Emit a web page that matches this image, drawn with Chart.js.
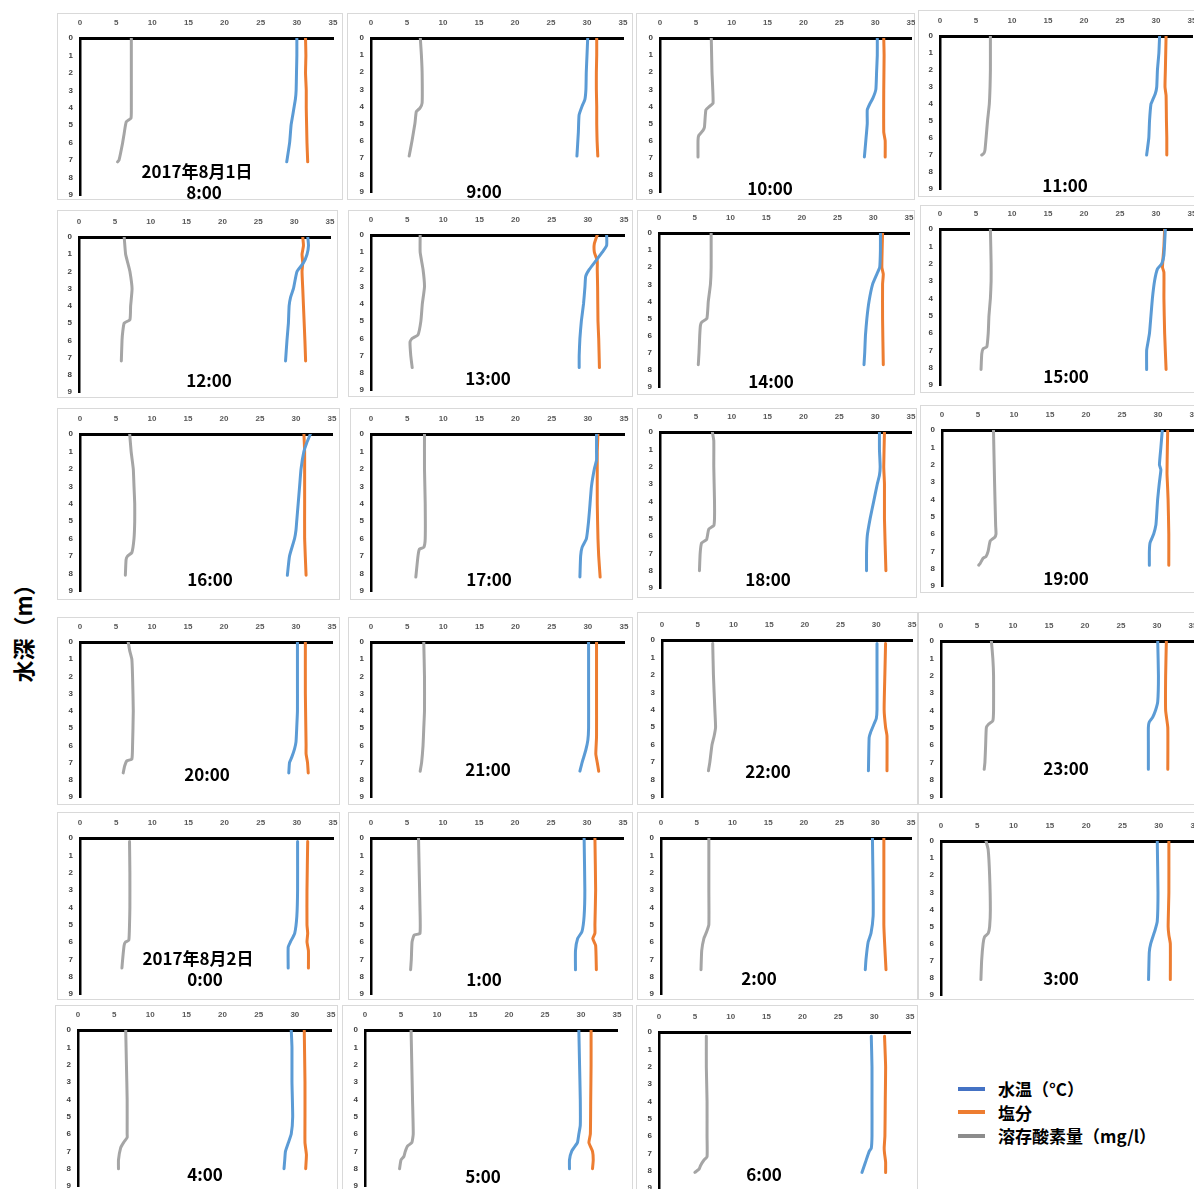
<!DOCTYPE html>
<html>
<head>
<meta charset="utf-8">
<script src="https://cdn.jsdelivr.net/npm/chart.js@4.4.1/dist/chart.umd.min.js"></script>
<style>
    body { margin: 0; width: 1194px; height: 1189px; overflow: hidden; background: #fff; position: relative; font-family: "Noto Sans CJK JP", sans-serif; }
    .frame { position: absolute; border: 1px solid #d9d9d9; box-sizing: border-box; }
    canvas { position: absolute; }
    .time { position: absolute; transform: translate(-50%, -50%); font-weight: bold; font-size: 17px; line-height: 1; white-space: nowrap; color: #000; }
    .ytitle { position: absolute; left: 22px; top: 628px; transform: translate(-50%, -50%) rotate(-90deg); font-weight: bold; font-size: 22px; white-space: nowrap; }
    .legend { position: absolute; left: 958px; top: 1077px; font-weight: bold; font-size: 17px; line-height: 23.5px; }
    .legend div { display: flex; align-items: center; }
    .legend span.mark { display: inline-block; width: 27px; height: 4px; margin-right: 13px; }
</style>
</head>
<body>
<div class="ytitle">水深（m）</div>
<div class="legend">
    <div><span class="mark" style="background:#4472c4"></span>水温（°C）</div>
    <div><span class="mark" style="background:#ed7d31"></span>塩分</div>
    <div><span class="mark" style="background:#8c8c8c"></span>溶存酸素量（mg/l）</div>
</div>
<script>
// --- dados: hora de cada perfil e os perfis [profundidade (m), valor] ---
const times = ['8:00', '9:00', '10:00', '11:00', '12:00', '13:00', '14:00', '15:00',
               '16:00', '17:00', '18:00', '19:00', '20:00', '21:00', '22:00', '23:00',
               '0:00', '1:00', '2:00', '3:00', '4:00', '5:00', '6:00'];
const dateLabels = ['2017年8月1日', '', '', '', '', '', '', '', '', '', '', '', '', '', '', '',
                    '2017年8月2日', '', '', '', '', '', ''];
const valueTicks = [0, 5, 10, 15, 20, 25, 30, 35];
const depthTicks = [0, 1, 2, 3, 4, 5, 6, 7, 8, 9];

// 水温 (°C)
const waterTemp = [
    [[0,30.0],[1,30.0],[2,29.95],[3,29.9],[3.5,29.8],[4,29.6],[4.5,29.4],[5,29.2],[6,29.0],[7.1,28.6]],
    [[0,30.1],[1,30.0],[2,29.9],[3,29.85],[3.6,29.7],[4,29.3],[4.5,28.9],[5.5,28.8],[6.9,28.6]],
    [[0,30.3],[1,30.3],[2,30.2],[3,30.1],[3.5,29.7],[3.9,29.2],[4.2,28.9],[5,28.9],[6,28.7],[6.95,28.5]],
    [[0,30.5],[1,30.4],[2,30.2],[3,30.1],[3.4,29.9],[3.8,29.5],[4,29.3],[5,29.1],[6,29.0],[7,28.7]],
    [[0,31.9],[0.5,32.0],[1,31.8],[1.5,31.3],[2,30.4],[3,29.9],[3.5,29.5],[4,29.3],[5,29.2],[6,29.0],[7.2,28.8]],
    [[0,32.6],[0.6,32.6],[1,32.0],[1.5,31.1],[2,30.2],[2.4,29.7],[3,29.6],[4,29.4],[5,29.1],[6,28.9],[7,28.8],[7.7,28.8]],
    [[0,31.0],[1,31.0],[2,30.9],[2.4,30.5],[3,29.9],[4,29.4],[5,29.1],[6,28.9],[7,28.8],[7.7,28.7]],
    [[0,31.3],[1.5,31.1],[2,30.8],[2.3,30.2],[3,29.8],[4,29.5],[5,29.3],[6,29.1],[6.5,28.9],[7,28.7],[8.1,28.7]],
    [[0,32.0],[0.5,31.5],[1,31.1],[2,30.7],[3,30.5],[4,30.3],[5,30.1],[5.5,30.0],[6,29.8],[7,29.1],[8.1,28.8]],
    [[0,31.2],[1,31.2],[1.5,31.2],[2,30.9],[3,30.5],[4,30.3],[5,30.1],[6,29.8],[6.5,29.2],[7,29.0],[8.2,28.9]],
    [[0,30.6],[1,30.6],[2,30.7],[2.5,30.6],[3,30.3],[4,29.8],[5,29.3],[6,28.9],[7,28.8],[8,28.8]],
    [[0,30.6],[1,30.4],[2,30.2],[2.3,30.4],[3,30.2],[4,29.95],[5,29.8],[5.5,29.7],[6,29.4],[6.5,28.9],[7,28.8],[7.8,28.8]],
    [[0,30.2],[2,30.2],[4,30.2],[5,30.1],[5.8,30.0],[6.2,29.8],[6.7,29.4],[7.0,29.1],[7.6,29.0]],
    [[0,30.1],[3,30.1],[5,30.1],[5.7,30.0],[6.3,29.7],[7,29.2],[7.5,28.9]],
    [[0.2,30.1],[2,30.1],[4,30.1],[4.5,30.0],[4.8,29.7],[5.3,29.2],[5.6,29.0],[7.5,28.9]],
    [[0,30.1],[2,30.2],[3.5,30.1],[4,29.8],[4.4,29.4],[4.7,28.9],[5,28.8],[6,28.8],[7.4,28.8]],
    [[0.2,30.1],[3,30.1],[4.5,30.0],[5.5,29.7],[6,29.1],[6.3,28.8],[7.5,28.8]],
    [[0,29.6],[3,29.7],[4.5,29.6],[5.4,29.3],[5.8,28.7],[6.5,28.4],[7.6,28.4]],
    [[0,29.6],[3,29.7],[4.5,29.7],[5.5,29.4],[6,29.0],[7,28.7],[7.6,28.6]],
    [[0,29.8],[3,29.9],[4.7,29.8],[5.2,29.5],[6,28.9],[6.5,28.7],[8.1,28.6]],
    [[0,29.5],[1,29.6],[3,29.6],[5,29.7],[6,29.5],[6.5,29.1],[7,28.7],[7.5,28.6],[8,28.5]],
    [[0,29.7],[2,29.8],[4,29.9],[5.5,29.9],[6,29.7],[6.5,29.5],[7,28.7],[7.5,28.4],[8,28.4]],
    [[0.25,29.6],[2,29.7],[4,29.7],[6,29.7],[6.7,29.6],[6.9,29.3],[7.5,28.8],[8.1,28.3]]
];

// 塩分
const salinity = [
    [[0,31.2],[1,31.25],[2,31.2],[3,31.3],[4,31.3],[5,31.35],[6,31.4],[7.1,31.5]],
    [[0,31.35],[1,31.35],[2,31.3],[3,31.3],[4,31.35],[5,31.35],[6,31.4],[6.9,31.5]],
    [[0,31.2],[1,31.25],[3,31.2],[5.5,31.2],[6,31.4],[6.95,31.4]],
    [[0,31.4],[2,31.3],[3,31.25],[3.5,31.4],[5,31.45],[6,31.5],[7,31.5]],
    [[0,31.2],[0.5,31.3],[1,31.1],[1.5,31.2],[2,31.1],[3,31.2],[4,31.3],[5,31.4],[6,31.5],[7.2,31.6]],
    [[0,31.3],[0.5,30.9],[1,30.9],[1.5,31.3],[2,31.3],[3,31.35],[5,31.4],[6,31.5],[7.7,31.6]],
    [[0,31.3],[2,31.2],[2.4,31.4],[3,31.3],[5,31.3],[7.7,31.4]],
    [[0,31.2],[1,31.1],[2.2,30.9],[2.5,31.1],[4,31.1],[6,31.2],[8.1,31.4]],
    [[0,31.1],[1,31.2],[2,31.2],[4,31.2],[6,31.2],[8.1,31.4]],
    [[0,31.4],[1,31.3],[2,31.3],[4,31.3],[6,31.4],[7,31.5],[8.2,31.7]],
    [[0,31.3],[2,31.2],[3,31.3],[5,31.3],[8,31.5]],
    [[0,31.35],[1,31.3],[2.5,31.25],[3,31.3],[4,31.4],[6,31.5],[7.8,31.5]],
    [[0,31.3],[3,31.3],[6,31.4],[6.5,31.4],[7,31.6],[7.6,31.7]],
    [[0,31.2],[3,31.2],[5.5,31.2],[6.5,31.1],[7,31.3],[7.5,31.5]],
    [[0.2,31.3],[2,31.2],[4,31.1],[5,31.3],[5.5,31.5],[7.5,31.5]],
    [[0,31.3],[2,31.2],[4,31.2],[5,31.5],[7.4,31.5]],
    [[0.2,31.5],[3,31.4],[5,31.4],[5.5,31.5],[6,31.4],[6.5,31.6],[7.5,31.6]],
    [[0,31.1],[3,31.2],[5,31.1],[5.5,31.1],[5.8,30.8],[6.2,31.2],[7.6,31.3]],
    [[0,31.2],[3,31.2],[5,31.2],[6,31.3],[7.6,31.5]],
    [[0,31.4],[3,31.4],[5,31.3],[5.5,31.4],[6,31.6],[8.1,31.6]],
    [[0,31.3],[3,31.4],[5,31.4],[6.5,31.4],[7.2,31.6],[8,31.5]],
    [[0,31.4],[2,31.4],[4,31.35],[6,31.3],[6.5,31.1],[7,31.6],[7.5,31.7],[8,31.6]],
    [[0.25,31.45],[2,31.6],[4,31.55],[6,31.5],[6.7,31.4],[7,31.45],[7.5,31.6],[8.1,31.6]]
];

// 溶存酸素量 (mg/l)
const oxygen = [
    [[0,7.1],[2,7.1],[4,7.1],[4.6,7.05],[4.8,6.4],[5.5,6.1],[6,5.9],[7,5.4],[7.1,5.2]],
    [[0,6.85],[1,7.0],[2,7.1],[3.8,7.1],[4.1,6.8],[4.3,6.3],[5,6.1],[6,5.7],[6.9,5.3]],
    [[0,7.15],[2,7.25],[3.8,7.4],[4.0,6.9],[4.2,6.4],[5.2,6.2],[5.4,6.0],[5.7,5.4],[6,5.3],[6.95,5.3]],
    [[0,7.0],[2,7.0],[3,6.95],[4,6.85],[5,6.6],[6,6.4],[6.7,6.25],[6.9,6.1],[7.0,5.8]],
    [[0,6.3],[1,6.5],[1.5,6.8],[2,7.1],[3,7.4],[4,7.2],[4.8,7.1],[5,6.3],[5.5,6.1],[6,6.0],[7.2,5.9]],
    [[0,6.8],[1,6.8],[2,7.2],[3,7.4],[4,7.1],[5,6.9],[5.8,6.5],[6,5.7],[6.2,5.4],[7,5.5],[7.7,5.7]],
    [[0,7.3],[2,7.3],[3,7.2],[4,6.9],[5,6.7],[5.2,6.0],[5.4,5.8],[6,5.7],[7,5.6],[7.7,5.5]],
    [[0,7.0],[2,7.1],[3,7.1],[4,7.0],[5,6.8],[6,6.7],[6.8,6.5],[6.9,6.0],[7.2,5.8],[8.1,5.7]],
    [[0,6.9],[1,7.1],[2,7.4],[3,7.5],[4,7.6],[5,7.6],[6,7.5],[6.8,7.2],[7,6.6],[7.2,6.4],[8.1,6.3]],
    [[0,7.4],[2,7.4],[4,7.5],[6,7.5],[6.5,7.3],[6.6,6.7],[7,6.5],[8.2,6.2]],
    [[0,7.3],[0.5,7.5],[2,7.5],[4,7.6],[5,7.6],[5.4,7.5],[5.6,6.8],[6.2,6.5],[6.4,5.8],[7,5.6],[8,5.5]],
    [[0,7.15],[3,7.3],[5.5,7.45],[6,7.5],[6.2,7.3],[6.4,6.7],[7,6.4],[7.3,6.1],[7.4,5.7],[7.7,5.3],[7.8,5.1]],
    [[0,6.7],[0.5,6.9],[1,7.2],[2,7.3],[4,7.4],[6,7.3],[6.8,7.2],[6.9,6.5],[7.2,6.2],[7.6,6.0]],
    [[0,7.3],[2,7.4],[4,7.4],[5,7.3],[6,7.2],[7,7.0],[7.5,6.8]],
    [[0.2,7.1],[2,7.2],[4,7.4],[5,7.5],[5.5,7.3],[6,7.0],[7,6.7],[7.5,6.5]],
    [[0,7.0],[1,7.2],[2,7.3],[4,7.3],[4.6,7.2],[4.8,6.6],[5,6.3],[6,6.2],[7,6.1],[7.4,6.0]],
    [[0.2,6.85],[2,6.9],[4,6.9],[5,6.85],[5.9,6.75],[6.0,6.3],[6.2,6.1],[7,5.9],[7.5,5.8]],
    [[0,6.6],[2,6.7],[4,6.8],[5.5,6.8],[5.6,6.0],[6,5.7],[7,5.6],[7.6,5.5]],
    [[0,6.7],[3,6.7],[5,6.7],[5.4,6.4],[5.8,6.0],[6.5,5.7],[7.6,5.6]],
    [[0,6.2],[0.5,6.5],[2,6.7],[4,6.8],[5,6.7],[5.4,6.5],[5.6,6.0],[6,5.8],[7,5.6],[8.1,5.5]],
    [[0,6.6],[2,6.7],[4,6.8],[6,6.8],[6.2,6.8],[6.5,6.3],[6.8,5.9],[7.5,5.6],[8,5.6]],
    [[0,6.4],[2,6.5],[4,6.6],[6,6.7],[6.5,6.5],[6.7,5.9],[7,5.6],[7.3,5.4],[7.5,5.0],[8,4.8]],
    [[0.25,6.6],[2,6.6],[4,6.7],[6,6.7],[7.2,6.7],[7.4,6.25],[7.7,5.8],[7.9,5.6],[8.1,5.0]]
];

// --- layout de cada painel: moldura, eixo (0 e 35, 0 m e 9 m) e posição do texto ---
// [left, top, right, bottom, x0, x35, y0, y9, textX, textY]
const panelLayout = [
    [57, 13, 343, 200, 80, 333, 38, 195, 204, 191],
    [347, 13, 633, 200, 371, 623, 38, 192, 484, 190],
    [636, 13, 915, 200, 660, 911, 38, 192, 770, 187],
    [918, 10, 1200, 197, 940, 1192, 36, 189, 1065, 184],
    [57, 210, 338, 398, 79, 330, 237, 392, 209, 379],
    [348, 210, 633, 397, 371, 624, 235, 390, 488, 377],
    [637, 210, 915, 395, 659, 909, 233, 387, 771, 380],
    [920, 205, 1200, 393, 940, 1192, 229, 385, 1066, 375],
    [57, 408, 340, 600, 80, 332, 434, 591, 210, 578],
    [350, 408, 633, 600, 371, 624, 434, 591, 489, 578],
    [637, 408, 917, 598, 660, 911, 432, 588, 768, 578],
    [920, 405, 1200, 593, 942, 1194, 430, 586, 1066, 577],
    [57, 617, 340, 805, 80, 332, 642, 797, 207, 773],
    [348, 617, 633, 805, 371, 624, 642, 797, 488, 768],
    [637, 612, 918, 805, 662, 912, 640, 797, 768, 770],
    [918, 612, 1200, 805, 941, 1193, 641, 797, 1066, 767],
    [57, 812, 340, 1000, 80, 333, 838, 994, 205, 978],
    [348, 812, 633, 1000, 371, 623, 838, 994, 484, 978],
    [637, 812, 918, 1000, 661, 911, 838, 994, 759, 977],
    [918, 812, 1200, 1000, 941, 1195, 841, 995, 1061, 977],
    [55, 1005, 338, 1195, 78, 331, 1030, 1186, 205, 1173],
    [342, 1005, 633, 1195, 365, 617, 1030, 1186, 483, 1175],
    [636, 1005, 918, 1195, 659, 910, 1032, 1188, 764, 1173]
];
const dateOffsetY = 21; // a linha da data fica acima da hora

const toPoints = profile => profile.map(([depth, value]) => ({ x: value, y: depth }));

function addText(text, x, y) {
    const el = document.createElement('div');
    el.className = 'time';
    el.textContent = text;
    el.style.left = x + 'px';
    el.style.top = y + 'px';
    document.body.appendChild(el);
}

function renderPanel(i) {
    const [l, t, r, b, x0, x35, y0, y9, tx, ty] = panelLayout[i];

    const frame = document.createElement('div');
    frame.className = 'frame';
    frame.style.cssText = `left:${l}px;top:${t}px;width:${r - l}px;height:${b - t}px;`;
    document.body.appendChild(frame);

    const canvas = document.createElement('canvas');
    canvas.width = r - l;
    canvas.height = b - t;
    canvas.style.left = l + 'px';
    canvas.style.top = t + 'px';
    document.body.appendChild(canvas);

    const tickFont = { family: 'Liberation Sans', size: 8, weight: 'bold' };

    new Chart(canvas.getContext('2d'), {
        type: 'line',
        data: {
            datasets: [
                { label: '溶存酸素量', data: toPoints(oxygen[i]), borderColor: '#a5a5a5' },
                { label: '水温', data: toPoints(waterTemp[i]), borderColor: '#5b9bd5' },
                { label: '塩分', data: toPoints(salinity[i]), borderColor: '#ed7d31' }
            ]
        },
        options: {
            responsive: false,
            animation: false,
            devicePixelRatio: 1,
            indexAxis: 'y',
            layout: { padding: { left: 0, top: 0, right: r - x35, bottom: b - y9 } },
            elements: {
                point: { radius: 0 },
                line: { borderWidth: 3, tension: 0.15, borderCapStyle: 'round', borderJoinStyle: 'round' }
            },
            plugins: { legend: { display: false }, tooltip: { enabled: false } },
            scales: {
                x: {
                    type: 'linear',
                    position: 'top',
                    min: valueTicks[0],
                    max: valueTicks[valueTicks.length - 1],
                    // tamanho fixo do eixo, sem o recuo automático dos rótulos
                    afterFit: s => { s.height = y0 - t; s.paddingLeft = 0; s.paddingRight = 0; },
                    afterBuildTicks: s => { s.ticks = valueTicks.map(v => ({ value: v })); },
                    ticks: { font: tickFont, color: '#595959', padding: 10, maxRotation: 0 },
                    grid: { display: false, drawTicks: false },
                    border: { color: '#000', width: 3 }
                },
                y: {
                    type: 'linear',
                    reverse: true,
                    min: depthTicks[0],
                    max: depthTicks[depthTicks.length - 1],
                    afterFit: s => { s.width = x0 - l; s.paddingTop = 0; s.paddingBottom = 0; },
                    afterBuildTicks: s => { s.ticks = depthTicks.map(v => ({ value: v })); },
                    ticks: { font: tickFont, color: '#404040', padding: 7 },
                    grid: { display: false, drawTicks: false },
                    border: { color: '#000', width: 2.5 }
                }
            }
        }
    });

    addText(times[i], tx, ty);
    if (dateLabels[i]) addText(dateLabels[i], tx - 7, ty - dateOffsetY);
}

times.forEach((_, i) => renderPanel(i));
</script>
</body>
</html>
